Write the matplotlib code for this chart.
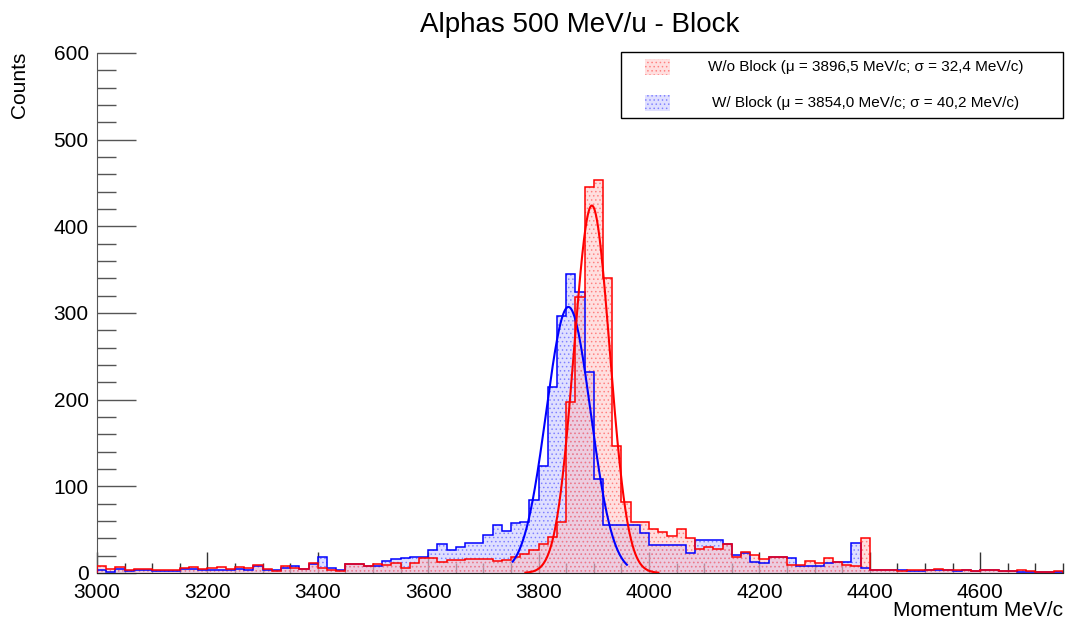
import numpy as np
import matplotlib
matplotlib.use("Agg")
import matplotlib.pyplot as plt
from matplotlib.patches import Rectangle
from matplotlib.ticker import MultipleLocator

plt.rcParams['font.family'] = ['Liberation Sans', 'DejaVu Sans']
plt.rcParams['hatch.linewidth'] = 0.6

# Histogram binning (MeV/c)
x_min, x_max, n_bins = 3000, 4750, 105

# Counts per bin, without the block
counts_wo = [
    8, 5, 7, 3, 5, 5, 4, 3, 4, 6,
    7, 5, 6, 7, 5, 7, 6, 9, 5, 2,
    8, 6, 5, 11, 6, 3, 2, 10, 10, 8,
    10, 9, 11, 6, 11, 17, 17, 13, 15, 15,
    16, 16, 16, 14, 15, 19, 22, 27, 34, 42,
    59, 197, 318, 445, 453, 340, 147, 82, 59, 59,
    51, 47, 43, 51, 40, 28, 30, 28, 34, 19,
    24, 21, 16, 19, 18, 9, 9, 14, 11, 17,
    13, 9, 8, 40, 3, 3, 3, 2, 3, 3,
    4, 5, 3, 3, 4, 2, 3, 4, 2, 2,
    3, 2, 1, 1, 2,
]

# Counts per bin, with the block
counts_w = [
    3, 1, 5, 2, 3, 3, 2, 2, 2, 5,
    5, 4, 4, 4, 4, 5, 4, 8, 4, 3,
    6, 8, 5, 10, 18, 6, 4, 10, 10, 8,
    8, 14, 16, 17, 18, 19, 27, 33, 27, 30,
    35, 35, 44, 55, 49, 58, 59, 84, 124, 215,
    297, 345, 324, 232, 109, 55, 55, 55, 55, 46,
    32, 32, 32, 32, 23, 38, 38, 38, 34, 21,
    23, 13, 11, 19, 19, 17, 8, 8, 8, 11,
    13, 13, 35, 6, 4, 4, 3, 3, 2, 2,
    3, 4, 3, 2, 3, 2, 4, 3, 2, 2,
    1, 1, 1, 1, 1,
]

# Gaussian fit results: [without block, with block]
fit_mu = [3896.5, 3854.0]
fit_sigma = [32.4, 40.2]
fit_amp = [424, 307]
fit_lo = [3776, 3753]
fit_hi = [4017, 3960]

series_names = ["W/o Block", "W/ Block"]
line_colors = ["#ff0000", "#0000ff"]
face_colors = [(1.0, 0.72, 0.72, 0.45), (0.72, 0.72, 1.0, 0.45)]
dot_colors = [(1.0, 0.45, 0.45, 0.8), (0.45, 0.45, 1.0, 0.8)]

W, H = 1068, 626
fig = plt.figure(figsize=(W / 100, H / 100), dpi=100)
ax = fig.add_axes([97 / W, 53 / H, 966 / W, 520 / H])

edges = np.linspace(x_min, x_max, n_bins + 1)

# Draw "with block" first, then "without block" on top
for k in (1, 0):
    vals = [counts_wo, counts_w][k]
    ax.stairs(vals, edges, fill=True, facecolor=face_colors[k],
              edgecolor=dot_colors[k], hatch='....', linewidth=0, zorder=2)
    ax.stairs(vals, edges, fill=False, color=line_colors[k],
              linewidth=1.1, baseline=0, zorder=3)

for k in (1, 0):
    xs = np.linspace(fit_lo[k], fit_hi[k], 300)
    ys = fit_amp[k] * np.exp(-0.5 * ((xs - fit_mu[k]) / fit_sigma[k]) ** 2)
    ax.plot(xs, ys, color=line_colors[k], linewidth=1.5, zorder=4)

ax.set_xlim(x_min, x_max)
ax.set_ylim(0, 600)

for side in ("top", "right"):
    ax.spines[side].set_visible(False)
ax.spines["left"].set_color("#555555")
ax.spines["bottom"].set_color("#222222")

ax.xaxis.set_major_locator(MultipleLocator(200))
ax.xaxis.set_minor_locator(MultipleLocator(50))
ax.yaxis.set_major_locator(MultipleLocator(100))
ax.yaxis.set_minor_locator(MultipleLocator(20))
ax.tick_params(axis='x', which='major', direction='in', length=15, width=1,
               labelsize=15, pad=7, color="#333333")
ax.tick_params(axis='x', which='minor', direction='in', length=7.5, width=1,
               color="#333333")
ax.tick_params(axis='y', which='major', direction='in', length=28, width=1,
               labelsize=15, pad=6, color="#555555")
ax.tick_params(axis='y', which='minor', direction='in', length=14, width=1,
               color="#555555")

fig.text(580 / W, 1 - 25 / H, "Alphas 500 MeV/u - Block", ha='center',
         va='center', fontsize=20)
fig.text(20 / W, 1 - 52 / H, "Counts", rotation=90, ha='center', va='top',
         fontsize=15)
fig.text(1063 / W, 1 - 601 / H, "Momentum MeV/c", ha='right', va='top',
         fontsize=15)

# Legend box
box = Rectangle((621 / W, 1 - 118 / H), 442 / W, 66 / H, transform=fig.transFigure,
                facecolor='white', edgecolor='black', linewidth=1, zorder=10)
fig.patches.append(box)
entry_y = [66.5, 103]
for k in range(2):
    sw = Rectangle((645 / W, 1 - (entry_y[k] + 8) / H), 25 / W, 16 / H,
                   transform=fig.transFigure, facecolor=face_colors[k],
                   edgecolor=dot_colors[k], hatch='....', linewidth=0, zorder=11)
    fig.patches.append(sw)
    mu_txt = f"{fit_mu[k]:.1f}".replace('.', ',')
    sg_txt = f"{fit_sigma[k]:.1f}".replace('.', ',')
    label = f"{series_names[k]} (\u03bc = {mu_txt} MeV/c; \u03c3 = {sg_txt} MeV/c)"
    fig.text(866 / W, 1 - entry_y[k] / H, label, ha='center', va='center',
             fontsize=11, zorder=12)

fig.savefig("out.png", dpi=100)
